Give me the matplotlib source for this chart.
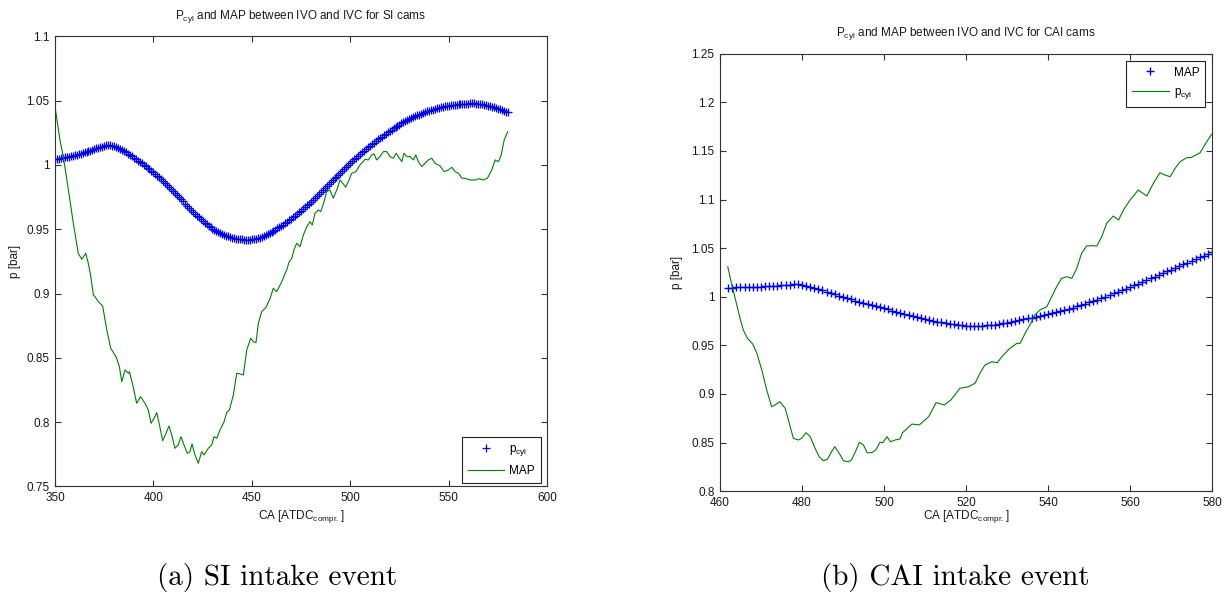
import numpy as np
import matplotlib
matplotlib.use("Agg")
import matplotlib.pyplot as plt
from matplotlib.ticker import FuncFormatter

plt.rcParams['font.family'] = ['Liberation Sans', 'DejaVu Sans']
plt.rcParams['mathtext.default'] = 'regular'

# --- SI cams (left) ---
si_cyl_x = list(range(350, 581))
si_cyl = [1.0045, 1.0047, 1.0050, 1.0053, 1.0056, 1.0059, 1.0062, 1.0065, 1.0068, 1.0072,
          1.0076, 1.0080, 1.0084, 1.0088, 1.0093, 1.0097, 1.0102, 1.0107, 1.0112, 1.0117,
          1.0122, 1.0128, 1.0133, 1.0138, 1.0143, 1.0148, 1.0152, 1.0154, 1.0153, 1.0151,
          1.0147, 1.0141, 1.0133, 1.0125, 1.0116, 1.0107, 1.0097, 1.0087, 1.0077, 1.0067,
          1.0056, 1.0045, 1.0034, 1.0023, 1.0012, 1.0001, 0.9990, 0.9978, 0.9966, 0.9954,
          0.9942, 0.9929, 0.9916, 0.9903, 0.9889, 0.9875, 0.9860, 0.9845, 0.9830, 0.9814,
          0.9798, 0.9782, 0.9766, 0.9750, 0.9733, 0.9716, 0.9700, 0.9684, 0.9668, 0.9652,
          0.9637, 0.9622, 0.9607, 0.9592, 0.9578, 0.9564, 0.9551, 0.9539, 0.9527, 0.9516,
          0.9505, 0.9495, 0.9486, 0.9478, 0.9470, 0.9463, 0.9456, 0.9450, 0.9445, 0.9440,
          0.9435, 0.9431, 0.9428, 0.9425, 0.9423, 0.9421, 0.9420, 0.9419, 0.9419, 0.9420,
          0.9421, 0.9423, 0.9426, 0.9430, 0.9434, 0.9439, 0.9445, 0.9452, 0.9460, 0.9468,
          0.9477, 0.9486, 0.9496, 0.9506, 0.9516, 0.9526, 0.9537, 0.9548, 0.9559, 0.9570,
          0.9582, 0.9594, 0.9606, 0.9618, 0.9631, 0.9644, 0.9658, 0.9672, 0.9686, 0.9700,
          0.9715, 0.9730, 0.9745, 0.9760, 0.9775, 0.9790, 0.9805, 0.9820, 0.9835, 0.9850,
          0.9865, 0.9880, 0.9895, 0.9910, 0.9925, 0.9940, 0.9955, 0.9970, 0.9985, 1.0000,
          1.0015, 1.0029, 1.0043, 1.0057, 1.0070, 1.0084, 1.0097, 1.0110, 1.0123, 1.0136,
          1.0149, 1.0162, 1.0174, 1.0186, 1.0198, 1.0210, 1.0221, 1.0232, 1.0243, 1.0254,
          1.0264, 1.0275, 1.0285, 1.0295, 1.0305, 1.0314, 1.0323, 1.0332, 1.0340, 1.0348,
          1.0356, 1.0364, 1.0371, 1.0378, 1.0385, 1.0392, 1.0398, 1.0404, 1.0410, 1.0416,
          1.0421, 1.0426, 1.0431, 1.0436, 1.0440, 1.0444, 1.0448, 1.0452, 1.0455, 1.0458,
          1.0461, 1.0464, 1.0466, 1.0468, 1.0470, 1.0472, 1.0473, 1.0474, 1.0475, 1.0476,
          1.0477, 1.0478, 1.0478, 1.0478, 1.0477, 1.0476, 1.0474, 1.0472, 1.0469, 1.0466,
          1.0462, 1.0458, 1.0453, 1.0448, 1.0443, 1.0438, 1.0432, 1.0426, 1.0420, 1.0414,
          1.0408]

si_map_x = [350, 352.5, 354.2, 356.8, 359.3, 361.8, 363.6, 365.6, 366.9, 368.0,
            369.5, 370.3, 372.0, 374.2, 376.3, 378.3, 381.0, 382.7, 383.9, 385.6,
            387.3, 387.8, 389.5, 391.5, 393.5, 395.7, 397.4, 398.8, 400.3, 401.7,
            403.4, 404.7, 406.4, 407.9, 409.3, 410.9, 412.6, 414.0, 415.2, 417.2,
            418.6, 419.6, 421.1, 422.8, 424.5, 425.7, 427.9, 429.6, 430.8, 432.2,
            433.8, 435.9, 437.2, 438.6, 440.6, 442.3, 444.0, 445.7, 447.4, 449.4,
            450.8, 452.1, 453.3, 455.0, 457.2, 459.3, 460.9, 462.6, 465.2, 467.7,
            469.0, 470.3, 471.4, 472.8, 474.5, 476.2, 477.9, 479.6, 480.7, 482.1,
            483.8, 485.0, 486.7, 488.0, 489.7, 491.4, 493.5, 494.8, 496.2, 497.7,
            499.4, 500.7, 502.9, 504.9, 506.6, 507.5, 509.2, 510.9, 512.1, 513.4,
            515.1, 516.8, 518.5, 520.2, 521.9, 523.3, 524.4, 526.2, 527.3, 528.7,
            530.4, 532.1, 533.3, 534.6, 536.3, 538.0, 539.7, 541.4, 543.1, 545.6,
            547.7, 549.9, 551.6, 553.3, 555.0, 556.7, 558.4, 560.9, 563.5, 565.6,
            567.6, 569.7, 571.9, 573.6, 575.3, 576.7, 578.2, 580.0]
si_map = [1.0453, 1.0194, 1.0065, 0.9806, 0.9547, 0.9313, 0.9267, 0.9313, 0.9236, 0.9150,
          0.8989, 0.8976, 0.8937, 0.8904, 0.8717, 0.8575, 0.8509, 0.8432, 0.8315, 0.8406,
          0.8380, 0.8393, 0.8289, 0.8147, 0.8198, 0.8147, 0.8095, 0.7991, 0.8030, 0.8074,
          0.7953, 0.7856, 0.7914, 0.7970, 0.7901, 0.7797, 0.7823, 0.7887, 0.7836, 0.7758,
          0.7771, 0.7831, 0.7745, 0.7680, 0.7771, 0.7745, 0.7797, 0.7823, 0.7887, 0.7875,
          0.7939, 0.8004, 0.8074, 0.8095, 0.8211, 0.8380, 0.8375, 0.8367, 0.8561, 0.8653,
          0.8626, 0.8618, 0.8769, 0.8859, 0.8893, 0.8963, 0.9041, 0.9015, 0.9093, 0.9184,
          0.9248, 0.9274, 0.9339, 0.9391, 0.9365, 0.9456, 0.9520, 0.9559, 0.9533, 0.9624,
          0.9650, 0.9637, 0.9715, 0.9792, 0.9806, 0.9741, 0.9819, 0.9883, 0.9858, 0.9827,
          0.9883, 0.9935, 0.9948, 1.0000, 1.0026, 1.0044, 1.0039, 1.0078, 1.0086, 1.0039,
          1.0065, 1.0104, 1.0104, 1.0065, 1.0052, 1.0091, 1.0065, 1.0026, 1.0091, 1.0065,
          1.0065, 1.0039, 1.0078, 1.0026, 0.9987, 1.0013, 1.0039, 1.0052, 1.0013, 0.9992,
          0.9948, 0.9961, 0.9982, 0.9948, 0.9935, 0.9897, 0.9897, 0.9883, 0.9883, 0.9893,
          0.9883, 0.9897, 0.9961, 1.0039, 1.0026, 1.0078, 1.0194, 1.0259]

# --- CAI cams (right) ---
cai_map_x = list(range(462, 581))
cai_map = [1.0093, 1.0094, 1.0095, 1.0096, 1.0097, 1.0098, 1.0100, 1.0102, 1.0104, 1.0106,
           1.0109, 1.0112, 1.0115, 1.0118, 1.0121, 1.0124, 1.0126, 1.0126, 1.0122, 1.0113,
           1.0102, 1.0090, 1.0077, 1.0064, 1.0050, 1.0037, 1.0024, 1.0011, 0.9998, 0.9985,
           0.9972, 0.9960, 0.9948, 0.9936, 0.9924, 0.9913, 0.9902, 0.9891, 0.9880, 0.9869,
           0.9858, 0.9847, 0.9836, 0.9825, 0.9814, 0.9803, 0.9792, 0.9782, 0.9772, 0.9762,
           0.9753, 0.9744, 0.9736, 0.9728, 0.9721, 0.9715, 0.9710, 0.9706, 0.9703, 0.9701,
           0.9700, 0.9700, 0.9702, 0.9705, 0.9709, 0.9714, 0.9720, 0.9727, 0.9734, 0.9742,
           0.9750, 0.9759, 0.9768, 0.9777, 0.9786, 0.9795, 0.9804, 0.9813, 0.9822, 0.9832,
           0.9842, 0.9853, 0.9864, 0.9876, 0.9888, 0.9901, 0.9914, 0.9927, 0.9941, 0.9955,
           0.9970, 0.9986, 1.0002, 1.0018, 1.0034, 1.0050, 1.0066, 1.0083, 1.0100, 1.0118,
           1.0136, 1.0154, 1.0172, 1.0190, 1.0208, 1.0226, 1.0244, 1.0262, 1.0280, 1.0298,
           1.0316, 1.0334, 1.0352, 1.0370, 1.0388, 1.0406, 1.0424, 1.0442, 1.0460]

cai_cyl_x = [461.9, 462.8, 464.1, 465.0, 465.7, 466.7, 468.0, 469.0, 470.2, 471.4,
             472.6, 473.4, 474.6, 475.9, 476.9, 477.9, 479.1, 479.9, 481.0, 482.0,
             483.2, 484.2, 485.2, 486.2, 487.2, 488.0, 489.1, 490.1, 491.3, 492.1,
             493.2, 494.0, 495.0, 495.9, 497.0, 498.0, 499.0, 499.7, 500.7, 501.6,
             502.7, 503.9, 504.5, 506.8, 508.6, 510.9, 512.7, 514.7, 516.3, 518.5,
             520.6, 522.2, 523.4, 524.6, 526.3, 527.6, 529.1, 530.7, 532.4, 533.2,
             534.4, 535.8, 536.8, 538.0, 539.7, 540.9, 542.1, 543.3, 544.6, 545.8,
             547.0, 548.2, 549.4, 550.7, 551.9, 553.1, 554.3, 555.9, 557.2, 558.4,
             560.0, 562.0, 564.1, 565.7, 567.3, 568.5, 569.8, 571.0, 572.2, 573.8,
             575.0, 577.1, 578.7, 579.9]
cai_cyl = [1.0309, 1.0138, 0.9915, 0.9760, 0.9657, 0.9572, 0.9513, 0.9418, 0.9246, 0.9040,
           0.8868, 0.8886, 0.8920, 0.8852, 0.8698, 0.8543, 0.8526, 0.8543, 0.8601, 0.8560,
           0.8440, 0.8354, 0.8313, 0.8327, 0.8405, 0.8457, 0.8389, 0.8313, 0.8302, 0.8320,
           0.8423, 0.8502, 0.8474, 0.8395, 0.8395, 0.8423, 0.8502, 0.8498, 0.8560, 0.8508,
           0.8526, 0.8536, 0.8600, 0.8690, 0.8681, 0.8766, 0.8910, 0.8886, 0.8937, 0.9058,
           0.9074, 0.9109, 0.9212, 0.9297, 0.9331, 0.9321, 0.9400, 0.9469, 0.9520, 0.9520,
           0.9623, 0.9726, 0.9812, 0.9863, 0.9897, 1.0000, 1.0103, 1.0189, 1.0206, 1.0189,
           1.0292, 1.0447, 1.0522, 1.0525, 1.0522, 1.0617, 1.0755, 1.0830, 1.0789, 1.0892,
           1.0995, 1.1098, 1.1036, 1.1167, 1.1276, 1.1252, 1.1235, 1.1321, 1.1389, 1.1430,
           1.1434, 1.1482, 1.1595, 1.1671]

si_xticks = [350, 400, 450, 500, 550, 600]
si_yticks = [0.75, 0.8, 0.85, 0.9, 0.95, 1.0, 1.05, 1.1]
cai_xticks = [460, 480, 500, 520, 540, 560, 580]
cai_yticks = [0.8, 0.85, 0.9, 0.95, 1.0, 1.05, 1.1, 1.15, 1.2, 1.25]

fs = 8.5
txt = '#1a1a1a'
blue = '#0000ff'
green = '#008000'

fig = plt.figure(figsize=(12.28, 5.95), dpi=100)
ax1 = fig.add_axes([0.0448, 0.1824, 0.4007, 0.7565])
ax2 = fig.add_axes([0.5863, 0.1746, 0.4007, 0.7351])


def style(ax, xt, yt):
    ax.set_xlim(xt[0], xt[-1])
    ax.set_ylim(yt[0], yt[-1])
    ax.set_xticks(xt)
    ax.set_yticks(yt)
    ax.yaxis.set_major_formatter(FuncFormatter(lambda v, p: '%g' % round(v, 3)))
    ax.tick_params(direction='in', length=4, width=0.8, top=True, right=True,
                   labelsize=fs, labelcolor=txt, color='#333333', pad=4)
    for s in ax.spines.values():
        s.set_color('#333333')
        s.set_linewidth(0.8)


# left: SI
ax1.plot(si_cyl_x, si_cyl, '+', color=blue, ms=6, mew=0.9, label='p$_{cyl}$')
ax1.plot(si_map_x, si_map, '-', color=green, lw=0.8, label='MAP')
style(ax1, si_xticks, si_yticks)
ax1.text(0.5, 1.044, 'P$_{cyl}$ and MAP between IVO and IVC for SI cams', transform=ax1.transAxes,
         ha='center', va='center', fontsize=fs, color=txt)
ax1.set_xlabel('CA [ATDC$_{compr.}$]', fontsize=fs, color=txt)
ax1.set_ylabel('p [bar]', fontsize=fs, color=txt)
ax1.xaxis.set_label_coords(0.5, -0.067)
ax1.xaxis.label.set_va('center')
ax1.yaxis.set_label_coords(-0.081, 0.5)
ax1.yaxis.label.set_va('center')
leg1 = ax1.legend(loc='lower right', bbox_to_anchor=(0.9876, 0.007), borderaxespad=0,
                  fontsize=fs, numpoints=1, handlelength=3.1, handletextpad=0.45,
                  labelspacing=0.65, borderpad=0.5, fancybox=False, framealpha=1)
leg1.get_frame().set_edgecolor('#222222')
leg1.get_frame().set_linewidth(0.8)

# right: CAI
ax2.plot(cai_map_x, cai_map, '+', color=blue, ms=6, mew=1.0, label='MAP')
ax2.plot(cai_cyl_x, cai_cyl, '-', color=green, lw=0.8, label='p$_{cyl}$')
style(ax2, cai_xticks, cai_yticks)
ax2.text(0.5, 1.047, 'P$_{cyl}$ and MAP between IVO and IVC for CAI cams', transform=ax2.transAxes,
         ha='center', va='center', fontsize=fs, color=txt)
ax2.set_xlabel('CA [ATDC$_{compr.}$]', fontsize=fs, color=txt)
ax2.set_ylabel('p [bar]', fontsize=fs, color=txt)
ax2.xaxis.set_label_coords(0.5, -0.0585)
ax2.xaxis.label.set_va('center')
ax2.yaxis.set_label_coords(-0.087, 0.5)
ax2.yaxis.label.set_va('center')
leg2 = ax2.legend(loc='upper right', bbox_to_anchor=(0.9864, 0.984), borderaxespad=0,
                  fontsize=fs, numpoints=1, handlelength=3.1, handletextpad=0.45,
                  labelspacing=0.65, borderpad=0.5, fancybox=False, framealpha=1)
leg2.get_frame().set_edgecolor('#222222')
leg2.get_frame().set_linewidth(0.8)

# captions under the subfigures
fig.text(277 / 1228, 1 - 578 / 595, '(a) SI intake event', family='cmr10', fontsize=21,
         ha='center', va='center', color='black')
fig.text(955 / 1228, 1 - 578 / 595, '(b) CAI intake event', family='cmr10', fontsize=21,
         ha='center', va='center', color='black')

fig.savefig('out.png', dpi=100)
